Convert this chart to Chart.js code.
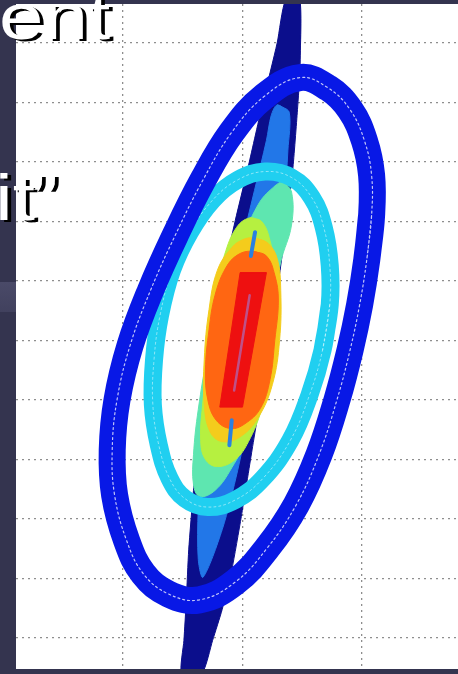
<!DOCTYPE html>
<html><head><meta charset="utf-8">
<script src="https://cdn.jsdelivr.net/npm/chart.js@4.4.0/dist/chart.umd.min.js"></script>
<style>
html,body{margin:0;padding:0;background:#34344f;overflow:hidden;}
#wrap{position:relative;width:458px;height:674px;background:#34344f;}
#band{position:absolute;left:0;top:282px;width:16px;height:30px;background:linear-gradient(180deg,#4a4a68,#41415e);}
canvas{position:absolute;left:0;top:0;}
.txt{position:absolute;font-family:"Liberation Sans",Arial,sans-serif;font-size:64px;line-height:64px;color:#fff;text-shadow:3px 2px 0 #000;transform:scaleX(1.25);transform-origin:0 0;white-space:nowrap;}
.q{margin-left:-3px;}
</style></head>
<body>
<div id="wrap">
<div id="band"></div>
<canvas id="c" width="458" height="674"></canvas>
<div class="txt" style="left:-1px;top:-15px;">ent</div>
<div class="txt" style="left:-5px;top:166px;">it<span class="q">”</span></div>
</div>
<script>
// grid tick positions (axis units)
const xGridTicks = [-1, 0, 1];
const yGridTicks = [-2.5, -2, -1.5, -1, -0.5, 0, 0.5, 1, 1.5, 2, 2.5];

// dark ridge (filled)
const ridgePts = [[0.48,2.86],[0.48,2.27],[0.46,1.94],[0.42,1.43],[0.36,0.93],[0.28,0.34],[0.19,-0.25],[0.08,-0.92],[-0.01,-1.48],[-0.09,-1.93],[-0.17,-2.26],[-0.25,-2.52],[-0.34,-2.80],
  [-0.51,-2.80],[-0.49,-2.52],[-0.47,-2.18],[-0.45,-1.76],[-0.41,-1.26],[-0.35,-0.67],[-0.26,-0.08],[-0.17,0.51],[-0.06,1.01],[0.05,1.47],[0.17,2.00],[0.29,2.50],[0.36,2.86]];
// light-blue level
const level2Pts = [[0.29,1.98],[0.39,1.92],[0.38,1.60],[0.35,1.18],[0.28,0.68],[0.19,0.09],[0.08,-0.50],[-0.04,-1.09],[-0.17,-1.59],[-0.33,-1.99],[-0.37,-1.84],[-0.37,-1.42],[-0.33,-1.00],[-0.26,-0.42],[-0.15,0.17],[-0.02,0.76],[0.10,1.26],[0.20,1.68],[0.24,1.89]];
// mint level
const level3Pts = [[0.34,1.33],[0.41,1.25],[0.41,0.97],[0.32,0.66],[0.27,0.34],[0.20,-0.08],[0.11,-0.50],[0.05,-0.79],[-0.09,-1.07],[-0.23,-1.26],[-0.36,-1.31],[-0.41,-1.21],[-0.41,-0.96],[-0.37,-0.58],[-0.29,-0.12],[-0.17,0.34],[-0.02,0.80],[0.13,1.14],[0.25,1.28]];
// yellow-green level
const level4Pts = [[0.06,1.03],[0.16,1.00],[0.23,0.84],[0.28,0.55],[0.28,0.17],[0.24,-0.25],[0.16,-0.58],[0.05,-0.85],[-0.06,-1.00],[-0.21,-1.06],[-0.31,-1.00],[-0.35,-0.84],[-0.33,-0.50],[-0.28,0.00],[-0.22,0.42],[-0.15,0.72],[-0.05,0.95]];
// yellow level
const level5Pts = [[0.10,0.86],[0.21,0.82],[0.29,0.69],[0.32,0.42],[0.31,0.00],[0.25,-0.37],[0.13,-0.65],[-0.02,-0.81],[-0.17,-0.85],[-0.27,-0.77],[-0.32,-0.54],[-0.32,-0.16],[-0.28,0.26],[-0.21,0.59],[-0.09,0.78],[0.01,0.85]];
// orange level
const level6Pts = [[0.08,0.75],[0.20,0.71],[0.27,0.55],[0.30,0.34],[0.27,0.00],[0.23,-0.33],[0.15,-0.57],[0.02,-0.70],[-0.10,-0.74],[-0.22,-0.67],[-0.29,-0.50],[-0.31,-0.25],[-0.28,0.09],[-0.23,0.38],[-0.14,0.61],[-0.04,0.72]];
// red peak
const peakPts = [[-0.02,0.57],[0.20,0.57],[0.00,-0.56],[-0.19,-0.56]];
const peakStreak = [[0.06,0.38],[-0.07,-0.42]];
const sliverTop = [[0.105,0.91],[0.07,0.71]];
const sliverBottom = [[-0.09,-0.67],[-0.11,-0.88]];
// cyan contour ring
const cyanRing = [[0.73,0.30],[0.67,-0.08],[0.56,-0.46],[0.40,-0.84],[0.17,-1.16],[-0.06,-1.34],[-0.29,-1.40],[-0.48,-1.33],[-0.61,-1.16],[-0.70,-0.88],[-0.75,-0.54],[-0.74,-0.16],[-0.69,0.21],[-0.59,0.59],[-0.44,0.91],[-0.25,1.18],[-0.04,1.35],[0.19,1.42],[0.41,1.37],[0.58,1.20],[0.68,0.95],[0.73,0.63]];
// outer blue contour ring
const blueRing = [[1.08,1.05],[1.04,0.68],[0.98,0.30],[0.90,-0.08],[0.79,-0.50],[0.64,-0.96],[0.45,-1.38],[0.21,-1.74],[-0.06,-2.03],[-0.36,-2.18],[-0.62,-2.13],[-0.83,-1.96],[-0.97,-1.68],[-1.07,-1.30],[-1.09,-0.92],[-1.05,-0.50],[-0.94,-0.04],[-0.77,0.42],[-0.56,0.89],[-0.33,1.35],[-0.09,1.75],[0.18,2.05],[0.48,2.21],[0.72,2.12],[0.90,1.94],[1.02,1.68],[1.08,1.39]];

const toXY = pts => pts.map(p => ({x: p[0], y: p[1]}));
const closed = pts => toXY(pts.concat([pts[0], pts[1]]));

function area(pts, color, tension) {
  return {data: closed(pts), showLine: true, pointRadius: 0, borderColor: color, backgroundColor: color,
          borderWidth: 1, fill: 'shape', tension: tension};
}
function ring(pts, color, width, dash) {
  return {data: closed(pts), showLine: true, pointRadius: 0, borderColor: color, borderWidth: width,
          fill: false, tension: 0.4, borderDash: dash || [], borderCapStyle: 'round', borderJoinStyle: 'round'};
}
function seg(pts, color, width) {
  return {data: toXY(pts), showLine: true, pointRadius: 0, borderColor: color, borderWidth: width, fill: false, tension: 0, borderCapStyle: 'round'};
}

const drawSeq = [
  area(ridgePts, '#0b0e8c', 0.2),
  area(level2Pts, '#2277e8', 0.3),
  area(level3Pts, '#5ee6b0', 0.4),
  area(level4Pts, '#b6f040', 0.4),
  area(level5Pts, '#f4cc1c', 0.4),
  area(level6Pts, '#ff6612', 0.4),
  seg(sliverTop, '#2a80e0', 4),
  seg(sliverBottom, '#2a80e0', 4),
  area(peakPts, '#ee1010', 0),
  seg(peakStreak, 'rgba(170,110,190,0.7)', 2.5),
  ring(cyanRing, '#20cff0', 18),
  ring(cyanRing, 'rgba(255,255,255,0.5)', 1, [2,3]),
  ring(blueRing, '#0818e6', 27),
  ring(blueRing, 'rgba(255,255,255,0.75)', 1.2, [2,3])
];
const n = drawSeq.length;
drawSeq.forEach((d, i) => { d.order = n - i; });

const bgPlugin = {id: 'bg', beforeDraw(c) {
  const a = c.chartArea, ctx = c.ctx;
  ctx.save(); ctx.fillStyle = '#ffffff';
  ctx.fillRect(a.left, a.top, a.right - a.left, a.bottom - a.top);
  ctx.restore();
}};

new Chart(document.getElementById('c'), {
  type: 'scatter',
  data: {datasets: drawSeq},
  plugins: [bgPlugin],
  options: {
    responsive: false, animation: false, devicePixelRatio: 1,
    layout: {padding: {left: 16, top: 4, right: 0, bottom: 5}},
    plugins: {legend: {display: false}, tooltip: {enabled: false}},
    elements: {line: {capBezierPoints: false}},
    scales: {
      x: {type: 'linear', min: -1.895, max: 1.803,
          afterBuildTicks: s => { s.ticks = xGridTicks.map(v => ({value: v})); },
          ticks: {display: false},
          grid: {color: '#8e8e8e', lineWidth: 1.3, drawTicks: false},
          border: {display: false, dash: [2, 4]}},
      y: {type: 'linear', min: -2.761, max: 2.828,
          afterBuildTicks: s => { s.ticks = yGridTicks.map(v => ({value: v})); },
          ticks: {display: false},
          grid: {color: '#8e8e8e', lineWidth: 1.3, drawTicks: false},
          border: {display: false, dash: [2, 4]}}
    }
  }
});
</script>
</body></html>
